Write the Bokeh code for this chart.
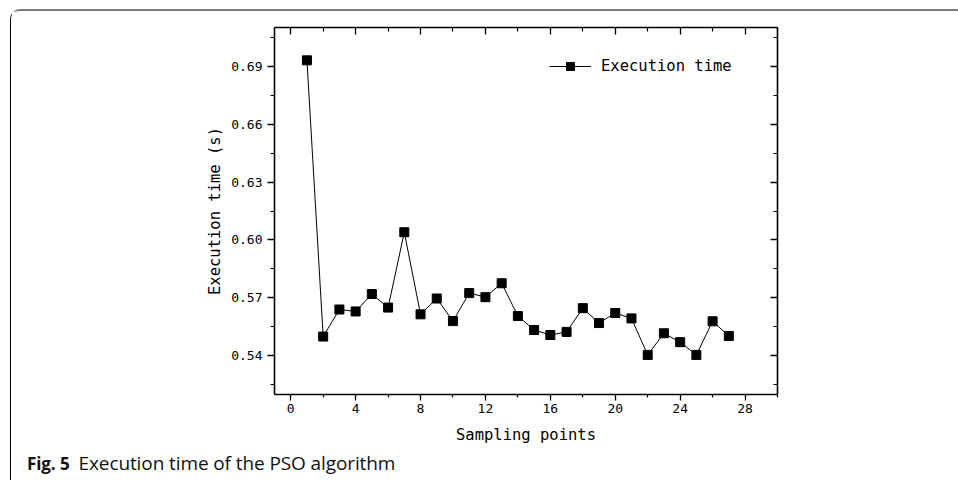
from bokeh.plotting import figure
from bokeh.models import (Range1d, FixedTicker, LinearAxis, Legend, LegendItem,
                          ColumnDataSource, CustomJSTickFormatter, Div)
from bokeh.layouts import column
from bokeh.embed import file_html
from bokeh.resources import INLINE

# ---- data ----
sampling_points = list(range(1, 28))
execution_time = [0.693, 0.550, 0.564, 0.563, 0.572, 0.565, 0.604, 0.5615, 0.5697,
                  0.558, 0.5725, 0.5704, 0.5776, 0.5606, 0.5534, 0.5508, 0.5524,
                  0.5647, 0.557, 0.5622, 0.5594, 0.5405, 0.5517, 0.5471, 0.5405,
                  0.5579, 0.5503]
x_major_ticks = [0, 4, 8, 12, 16, 20, 24, 28]
x_minor_ticks = [2, 6, 10, 14, 18, 22, 26, 30]
y_major_ticks = [0.54, 0.57, 0.60, 0.63, 0.66, 0.69]
y_minor_ticks = [0.525, 0.555, 0.585, 0.615, 0.645, 0.675, 0.705]
series_name = "Execution time"
x_label = "Sampling points"
y_label = "Execution time (s)"
caption_bold = "Fig. 5"
caption_text = "Execution time of the PSO algorithm"

MONO = "DejaVu Sans Mono"
W, H = 947, 436
BL, BR, BT, BB = 263, 181, 16, 53

src = ColumnDataSource(dict(x=sampling_points, y=execution_time))

p = figure(width=W, height=H, output_backend="svg", toolbar_location=None,
           x_range=Range1d(-1, 30), y_range=Range1d(0.52, 0.71),
           min_border_left=BL, min_border_right=BR, min_border_top=BT,
           min_border_bottom=BB)
p.grid.visible = False
p.outline_line_color = None
p.background_fill_color = "white"
p.border_fill_color = "white"

line_r = p.line("x", "y", source=src, line_color="black", line_width=1)
sq_r = p.scatter("x", "y", source=src, marker="square", size=9,
                 fill_color="black", line_color="black")

def style_axis(ax, tin, tout, mtin, mtout):
    ax.axis_line_width = 1.6
    ax.axis_line_color = "black"
    ax.major_tick_line_color = "black"
    ax.minor_tick_line_color = "black"
    ax.major_tick_line_width = 1.3
    ax.minor_tick_line_width = 1.2
    ax.major_tick_in = tin
    ax.major_tick_out = tout
    ax.minor_tick_in = mtin
    ax.minor_tick_out = mtout
    ax.major_label_text_font = MONO
    ax.major_label_text_font_size = "13px"
    ax.major_label_text_color = "black"
    ax.axis_label_text_font = MONO
    ax.axis_label_text_font_size = "15.5px"
    ax.axis_label_text_font_style = "normal"
    ax.axis_label_text_color = "black"

xt = FixedTicker(ticks=x_major_ticks, minor_ticks=x_minor_ticks)
yt = FixedTicker(ticks=y_major_ticks, minor_ticks=y_minor_ticks)

xa = p.xaxis[0]
xa.ticker = xt
xa.axis_label = x_label
style_axis(xa, 0, 6, 0, 3)
xa.major_label_standoff = 3
xa.axis_label_standoff = 10

ya = p.yaxis[0]
ya.ticker = yt
ya.axis_label = y_label
style_axis(ya, 0, 7, 0, 4)
ya.major_label_standoff = 5
ya.axis_label_standoff = 4
ya.formatter = CustomJSTickFormatter(code="return tick.toFixed(2);")

blank = CustomJSTickFormatter(code="return '';")
top = LinearAxis(ticker=xt, formatter=blank)
style_axis(top, 7, 0, 4, 0)
top.major_label_standoff = 0
p.add_layout(top, "above")
right = LinearAxis(ticker=yt, formatter=blank)
style_axis(right, 7, 0, 4, 0)
right.major_label_standoff = 0
p.add_layout(right, "right")

legend = Legend(items=[LegendItem(label=series_name, renderers=[line_r, sq_r])],
                location=(275, 318), glyph_width=42, glyph_height=20,
                label_standoff=10, padding=0, margin=0, border_line_color=None,
                background_fill_alpha=0, label_text_font=MONO,
                label_text_font_size="15.5px", label_text_color="black")
p.add_layout(legend, "center")

caption = Div(
    text=("<div style=\"font-family:'Open Sans',sans-serif;font-size:19px;"
          "line-height:22px;color:#111;white-space:nowrap;margin:0;"
          "padding:5px 0 0 16px;letter-spacing:-0.1px;\">"
          f"<b style='font-size:17px'>{caption_bold}</b>"
          f"<span style='margin-left:9px'>{caption_text}</span></div>"),
    width=W, height=33, margin=0)

layout = column(p, caption, spacing=0,
                styles={"border-top": "2px solid #7a7a7a", "border-left": "1px solid #000",
                        "border-top-left-radius": "10px", "margin-left": "10px",
                        "margin-top": "9px", "background": "white"})

open("out.html", "w").write(file_html(layout, INLINE))
